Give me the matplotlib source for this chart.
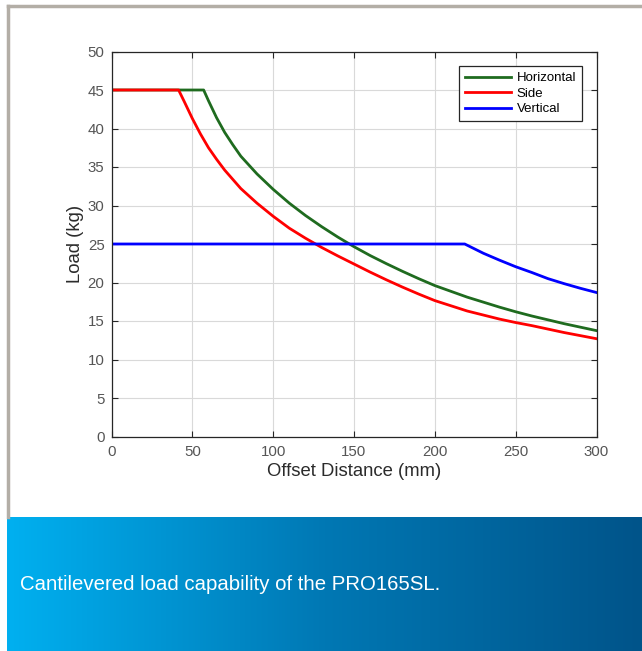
import matplotlib.pyplot as plt
import numpy as np
from matplotlib.lines import Line2D
from matplotlib.colors import LinearSegmentedColormap

plt.rcParams['font.family'] = ['Liberation Sans', 'DejaVu Sans']

horiz_x = [0, 57, 60, 65, 70, 75, 80, 90, 100, 110, 120, 130, 140, 150, 160,
           170, 180, 190, 200, 220, 240, 250, 260, 280, 300]
horiz_y = [45, 45, 43.6, 41.4, 39.5, 37.9, 36.4, 34.1, 32.1, 30.3, 28.7, 27.25,
           25.9, 24.65, 23.5, 22.45, 21.45, 20.5, 19.6, 18.1, 16.8, 16.2, 15.65,
           14.65, 13.75]

side_x = [0, 41.5, 45, 50, 55, 60, 65, 70, 80, 90, 100, 110, 120, 130, 140,
          150, 160, 170, 180, 190, 200, 220, 240, 250, 260, 280, 300]
side_y = [45, 45, 43.5, 41.3, 39.3, 37.5, 36.0, 34.6, 32.2, 30.3, 28.6, 27.05,
          25.75, 24.55, 23.45, 22.4, 21.35, 20.35, 19.4, 18.5, 17.65, 16.3, 15.25,
          14.8, 14.4, 13.5, 12.7]

vert_x = [0, 218.5, 230, 240, 250, 260, 270, 280, 290, 300]
vert_y = [25, 25, 23.8, 22.9, 22.05, 21.3, 20.5, 19.85, 19.25, 18.7]

fig = plt.figure(figsize=(6.42, 6.51), dpi=100)
W, H = 642, 651

ax = fig.add_axes([111.5 / W, 1 - 436.5 / H, 485 / W, 385 / H])
ax.plot(horiz_x, horiz_y, color='#1f6b1f', lw=2, label='Horizontal')
ax.plot(side_x, side_y, color='#ff0000', lw=2, label='Side')
ax.plot(vert_x, vert_y, color='#0000ff', lw=2, label='Vertical')

ax.set_xlim(0, 300)
ax.set_ylim(0, 50)
ax.set_xticks(np.arange(0, 301, 50))
ax.set_yticks(np.arange(0, 51, 5))
ax.grid(True, color='#d9d9d9', lw=0.8)
ax.tick_params(direction='in', top=True, right=True, length=4,
               labelsize=10.8, labelcolor='#555555', color='#262626')
ax.tick_params(axis='x', pad=6)
ax.tick_params(axis='y', pad=5)
for s in ax.spines.values():
    s.set_color('#262626')
    s.set_linewidth(0.9)
ax.set_xlabel('Offset Distance (mm)', fontsize=13.3, color='#2b2b2b', labelpad=3)
ax.set_ylabel('Load (kg)', fontsize=13.3, color='#2b2b2b', labelpad=3)

leg = ax.legend(loc='upper right', fontsize=9.5, handlelength=3.5,
                labelspacing=0.25, borderaxespad=1.1, fancybox=False,
                framealpha=1, edgecolor='#262626', handletextpad=0.4,
                borderpad=0.45)
leg.get_frame().set_linewidth(0.9)

# gray frame
fig.add_artist(Line2D([8 / W, 1], [1 - 6 / H, 1 - 6 / H], color='#b3aea6', lw=2.5))
fig.add_artist(Line2D([8 / W, 8 / W], [1 - 6 / H, 134 / H], color='#b3aea6', lw=2.5))

# blue caption banner
bax = fig.add_axes([7 / W, 0, 635 / W, 134 / H])
cmap = LinearSegmentedColormap.from_list('banner', ['#00b0f0', '#0078b4', '#00548a'])
bax.imshow(np.linspace(0, 1, 256).reshape(1, -1), cmap=cmap, aspect='auto',
           extent=[0, 1, 0, 1])
bax.set_axis_off()
bax.text(13 / 635, 66 / 134, 'Cantilevered load capability of the PRO165SL.',
         color='white', fontsize=14.7, va='center', ha='left',
         transform=bax.transAxes)

fig.savefig('out.png', dpi=100)
